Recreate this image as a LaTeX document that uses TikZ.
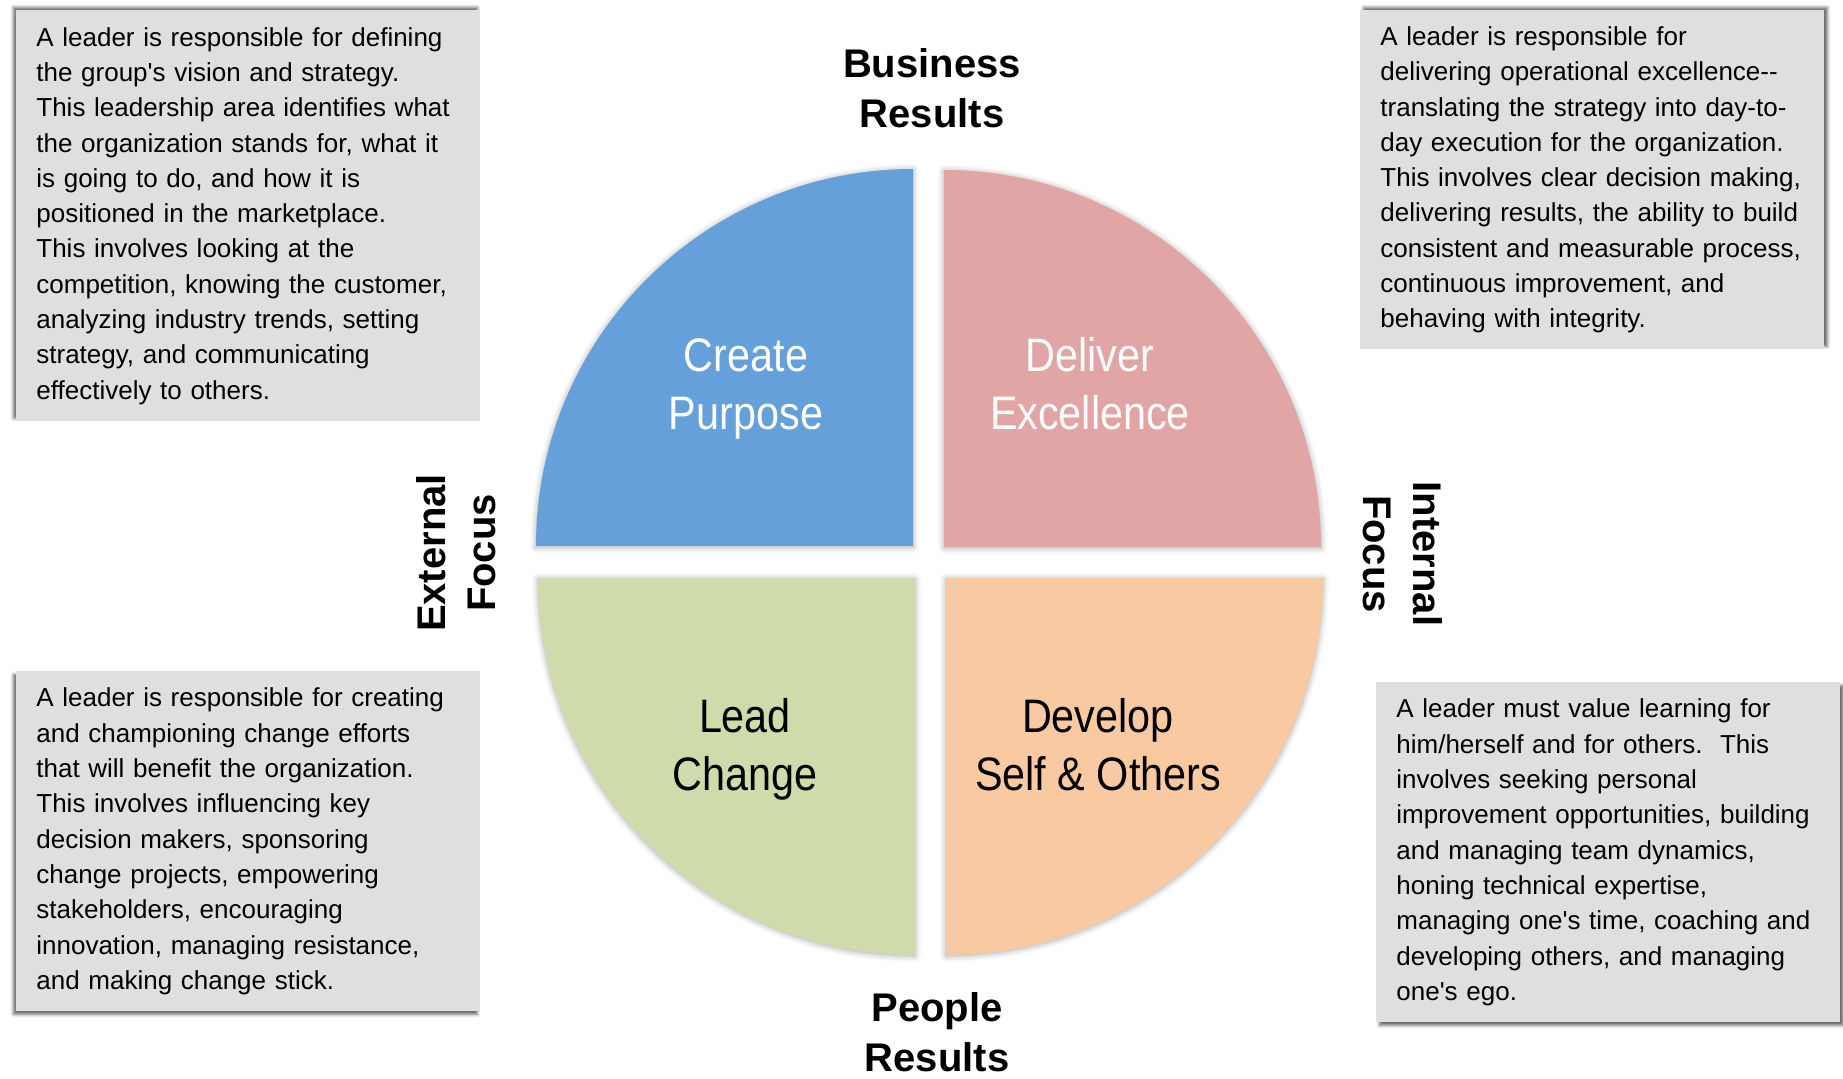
\documentclass[tikz,border=0pt]{standalone}
\usepackage{fontspec}
\setmainfont{Liberation Sans}
\newfontfamily\narrowfont{Liberation Sans}[FakeStretch=0.88]
\usepackage{tikz}
\usetikzlibrary{positioning}
\usetikzlibrary{shadows.blur}
\definecolor{createblue}{RGB}{101,160,218}
\definecolor{deliverpink}{RGB}{225,165,165}
\definecolor{leadgreen}{RGB}{207,219,170}
\definecolor{developorange}{RGB}{249,202,161}
\definecolor{boxgray}{RGB}{223,223,223}
\tikzset{
  % the four quarters of the wheel
  % gebruik: \fill[quadrant=kleur] (hoek) -- ++(..) arc (..) -- cycle;
  quadrant/.style={fill=#1,blur shadow={shadow xshift=0pt,shadow yshift=-0.5pt,shadow blur radius=3pt,shadow opacity=35}},
  % text in the quarters
  wheeltext/.style={align=center,inner sep=0pt,font=\narrowfont\fontsize{23.5pt}{29pt}\selectfont},
  % labels round the wheel
  axislabel/.style={align=center,inner sep=0pt,font=\bfseries\fontsize{20pt}{25pt}\selectfont},
  % grey text boxes, shadow points away from the wheel
  infobox/.style 2 args={fill=boxgray,anchor=north west,align=left,text width=212pt,inner xsep=10pt,inner ysep=0pt,
    font=\fontsize{13pt}{17.65pt}\selectfont,
    blur shadow={shadow xshift=#1,shadow yshift=#2,shadow blur radius=1.5pt,shadow opacity=60}},
}
\begin{document}
\begin{tikzpicture}[x=0.5pt,y=0.5pt]
  \useasboundingbox (0,0) rectangle (1843,-1079);
  % wheel
  \fill[quadrant=createblue] (913,-546) -- ++(-377,0) arc (180:90:377) -- cycle;
  \fill[quadrant=deliverpink] (944,-547) -- ++(0,377) arc (90:0:377) -- cycle;
  \fill[quadrant=leadgreen] (915,-578) -- ++(-377,0) arc (180:270:377) -- cycle;
  \fill[quadrant=developorange] (946,-578) -- ++(377,0) arc (0:-90:377) -- cycle;
  \node[wheeltext,text=white] (create) at (746,-389) {Create\\Purpose};
  \node[wheeltext,text=white] (deliver) at (1090,-384) {Deliver\\Excellence};
  \node[wheeltext] (lead) at (745,-749) {Lead\\Change};
  \node[wheeltext] (develop) at (1098,-745) {Develop\\Self \& Others};
  % axes
  \node[axislabel] (business) at (932,-88) {Business\\Results};
  \node[axislabel] (people) at (937,-1032) {People\\Results};
  \node[axislabel,rotate=90] (external) at (456,-553) {External\\Focus};
  \node[axislabel,rotate=-90] (internal) at (1403,-554) {Internal\\Focus};
  % descriptions
  \node[infobox={-1.5pt}{1.5pt},minimum height=205.5pt] (createbox) at (16,-10) {A leader is responsible for defining\\
the group\textquotesingle s vision and strategy.\\
This leadership area identifies what\\
the organization stands for, what it\\
is going to do, and how it is\\
positioned in the marketplace.\\
This involves looking at the\\
competition, knowing the customer,\\
analyzing industry trends, setting\\
strategy, and communicating\\
effectively to others.};
  \node[infobox={1.5pt}{1.5pt},minimum height=169.5pt] (deliverbox) at (1360,-10) {A leader is responsible for\\
delivering operational excellence-{}-\\
translating the strategy into day-to-\\
day execution for the organization.\\
This involves clear decision making,\\
delivering results, the ability to build\\
consistent and measurable process,\\
continuous improvement, and\\
behaving with integrity.};
  \node[infobox={-1.5pt}{-1.5pt},minimum height=170pt] (leadbox) at (16,-671) {A leader is responsible for creating\\
and championing change efforts\\
that will benefit the organization.\\
This involves influencing key\\
decision makers, sponsoring\\
change projects, empowering\\
stakeholders, encouraging\\
innovation, managing resistance,\\
and making change stick.};
  \node[infobox={1.5pt}{-1.5pt},minimum height=170pt] (developbox) at (1376,-682) {A leader must value learning for\\
him/herself and for others.\ \ This\\
involves seeking personal\\
improvement opportunities, building\\
and managing team dynamics,\\
honing technical expertise,\\
managing one\textquotesingle s time, coaching and\\
developing others, and managing\\
one\textquotesingle s ego.};
\end{tikzpicture}
\end{document}
